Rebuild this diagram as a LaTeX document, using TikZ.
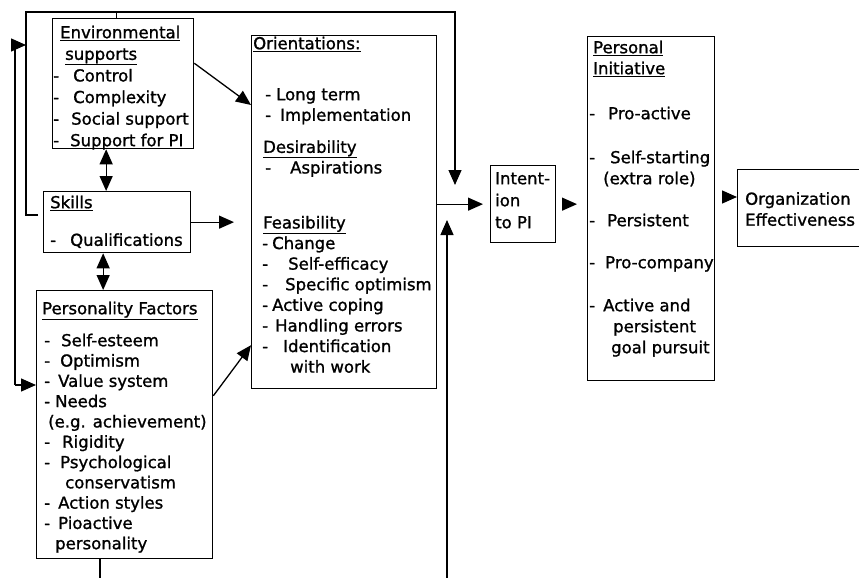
\documentclass[tikz,border=0pt]{standalone}
\usepackage{fontspec}
\setmainfont{DejaVu Sans}[FakeBold=1.2]
\usetikzlibrary{arrows.meta}
\newcommand{\dsh}[1]{\makebox[#1][l]{-}}

\begin{document}
\begin{tikzpicture}
[x=1pt,y=-1pt,
blk/.style={draw,line width=1.3pt,inner sep=0pt,anchor=north west},
txt/.style={anchor=north west,inner sep=0pt,align=left,font=\fontsize{16.5}{20.6}\selectfont},
arr/.style={line width=1.3pt,-{Triangle[length=15pt,width=13pt]}},
dbl/.style={line width=1.3pt,{Triangle[length=15pt,width=13pt]}-{Triangle[length=15pt,width=13pt]}},
ln/.style={line width=1.3pt}]
\useasboundingbox (0,0) rectangle (859,578);
% boxes
\node[blk,minimum width=141pt,minimum height=130pt] (env) at (52,18) {};
\node[blk,minimum width=147pt,minimum height=61pt] (skl) at (43,191) {};
\node[blk,minimum width=176pt,minimum height=268pt] (per) at (36,290) {};
\node[blk,minimum width=185pt,minimum height=353pt] (ori) at (251,35) {};
\node[blk,minimum width=65pt,minimum height=77pt] (int) at (490,165) {};
\node[blk,minimum width=127pt,minimum height=344pt] (pi) at (587,36) {};
\node[blk,minimum width=125pt,minimum height=77pt] (org) at (737,169) {};
% texts
\node[txt,font=\fontsize{16.5}{21.6}\selectfont] (envtxt) at (53,25.5)
  {\hspace*{7pt}\underline{Environmental}\\
   \hspace*{12pt}\underline{supports}\\
   \dsh{20pt}Control\\
   \dsh{20pt}Complexity\\
   \dsh{18pt}Social support\\
   \dsh{17pt}Support for PI};
\node[txt,font=\fontsize{16.5}{21.6}\selectfont] (skltxt) at (50,195.5)
  {\underline{Skills}\\[16pt]
   \dsh{20pt}Qualifications};
\node[txt,font=\fontsize{16.5}{20.3}\selectfont] (pertxt) at (42,301.5)
  {\underline{Personality Factors}\\[11.7pt]
   \hspace*{2pt}\dsh{17pt}Self-esteem\\
   \hspace*{2pt}\dsh{16pt}Optimism\\
   \hspace*{2pt}\dsh{14pt}Value system\\
   \hspace*{2pt}\dsh{11pt}Needs\\
   \hspace*{6pt}(e.g. achievement)\\
   \hspace*{2pt}\dsh{18pt}Rigidity\\
   \hspace*{2pt}\dsh{16pt}Psychological\\
   \hspace*{23pt}conservatism\\
   \hspace*{2pt}\dsh{14pt}Action styles\\
   \hspace*{2pt}\dsh{14pt}Pioactive\\
   \hspace*{13pt}personality};
\node[txt] (oritxt) at (253,36.5)
  {\underline{Orientations:}\\[30.4pt]
   \hspace*{12pt}\dsh{11pt}Long term\\
   \hspace*{12pt}\dsh{15pt}Implementation\\[11.4pt]
   \hspace*{10pt}\underline{Desirability}\\
   \hspace*{12pt}\dsh{25pt}Aspirations\\[34.4pt]
   \hspace*{10pt}\underline{Feasibility}\\
   \hspace*{9pt}\dsh{10pt}Change\\
   \hspace*{9pt}\dsh{26pt}Self-efficacy\\
   \hspace*{9pt}\dsh{23pt}Specific optimism\\
   \hspace*{9pt}\dsh{10pt}Active coping\\
   \hspace*{9pt}\dsh{13pt}Handling errors\\
   \hspace*{9pt}\dsh{21pt}Identification\\
   \hspace*{37pt}with work};
\node[txt,font=\fontsize{16.5}{22}\selectfont] (inttxt) at (495,172)
  {Intent-\\ion\\to PI};
\node[txt,font=\fontsize{16.5}{21}\selectfont] (pitxt) at (589,40.5)
  {\hspace*{4pt}\underline{Personal}\\
   \hspace*{4pt}\underline{Initiative}\\[24pt]
   \dsh{19pt}Pro-active\\[23pt]
   \dsh{21pt}Self-starting\\
   \hspace*{14pt}(extra role)\\[21pt]
   \dsh{18pt}Persistent\\[21pt]
   \dsh{16pt}Pro-company\\[22pt]
   \dsh{14pt}Active and\\
   \hspace*{24pt}persistent\\
   \hspace*{22pt}goal pursuit};
\node[txt,font=\fontsize{16.5}{21}\selectfont] (orgtxt) at (745,192)
  {Organization\\Effectiveness};
% loop points
\coordinate (topL) at (26,12);
\coordinate (dnTip) at (455,185);
\coordinate (upTip) at (447,220);
\coordinate (upEnd) at (447,578);
\coordinate (botEnd) at (100,578);
\coordinate (leftTop) at (15,45);
\coordinate (leftBot) at (15,385);
% connectors
\draw[arr] ([xshift=-5pt]skl.west |- 0,215) -| (topL) -| (dnTip);
\draw[ln] ([xshift=-7pt]env.north) -- ([xshift=-7pt]env.north |- topL);
\draw[ln] (leftTop) -- (leftBot);
\draw[arr] (leftTop) -- (leftTop -| topL);
\draw[arr] (leftBot) -- (leftBot -| per.west);
\draw[ln] (botEnd |- per.south) -- (botEnd);
\draw[arr] (upEnd) -- (upTip);
\draw[dbl] ([xshift=-17pt]env.south) -- ([xshift=-17pt]env.south |- skl.north);
\draw[dbl] ([xshift=-14pt]skl.south) -- ([xshift=-14pt]skl.south |- per.north);
\draw[arr] (env.16) -- (ori.131.5);
\draw[arr,shorten >=17pt] (skl.east) -- (ori.west |- skl.east);
\draw[arr] (per.18) -- (ori.235);
\draw[arr,shorten >=7pt] (ori.east |- int.west) -- (int.west);
\draw[arr,shorten <=8pt,shorten >=10pt] (int.east) -- (pi.west |- int.east);
\draw[arr,shorten <=7pt] (pi.east |- 0,197) -- (org.west |- 0,197);
\end{tikzpicture}
\end{document}
